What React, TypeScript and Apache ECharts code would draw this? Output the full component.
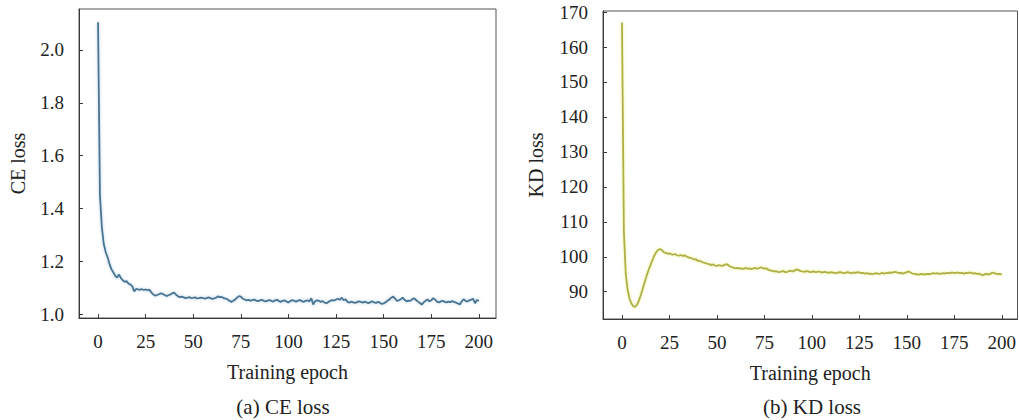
import React, { useEffect, useRef } from "react";
import * as echarts from "echarts";

const xTicks = [0, 25, 50, 75, 100, 125, 150, 175, 200];
const ceTicks = [1.0, 1.2, 1.4, 1.6, 1.8, 2.0];
const kdTicks = [90, 100, 110, 120, 130, 140, 150, 160, 170];

const ceLoss = [
  2.105, 1.45, 1.33, 1.265, 1.235, 1.215, 1.19, 1.17, 1.158, 1.145,
  1.138, 1.15, 1.136, 1.128, 1.122, 1.125, 1.115, 1.112, 1.105, 1.086,
  1.095, 1.093, 1.092, 1.094, 1.091, 1.093, 1.09, 1.092, 1.082, 1.074,
  1.07, 1.072, 1.075, 1.078, 1.076, 1.072, 1.068, 1.071, 1.074, 1.079,
  1.081, 1.073, 1.067, 1.064, 1.066, 1.063, 1.06, 1.062, 1.064, 1.06,
  1.061, 1.063, 1.059, 1.06, 1.062, 1.061, 1.058, 1.06, 1.063, 1.06,
  1.057, 1.059, 1.062, 1.067, 1.064, 1.065, 1.06, 1.058, 1.056, 1.05,
  1.046, 1.05, 1.055, 1.062, 1.068, 1.066, 1.058, 1.055, 1.052, 1.054,
  1.05, 1.053, 1.055, 1.051, 1.049, 1.052, 1.054, 1.05, 1.048, 1.051,
  1.053, 1.05, 1.047, 1.052, 1.054, 1.049, 1.046, 1.05, 1.052, 1.047,
  1.044, 1.049, 1.053, 1.05, 1.047, 1.051, 1.053, 1.049, 1.046, 1.05,
  1.052, 1.048, 1.06, 1.036, 1.048, 1.052, 1.05, 1.046, 1.049, 1.043,
  1.041, 1.046, 1.05, 1.053, 1.051, 1.055, 1.058, 1.054, 1.062, 1.052,
  1.056, 1.046, 1.043, 1.047, 1.044, 1.042, 1.045, 1.048, 1.046, 1.043,
  1.047, 1.044, 1.041, 1.045, 1.048, 1.044, 1.042, 1.046, 1.043, 1.038,
  1.04, 1.045, 1.05, 1.055, 1.062, 1.066, 1.058, 1.05, 1.052, 1.056,
  1.062, 1.054, 1.048, 1.051, 1.05, 1.056, 1.06, 1.053, 1.047, 1.042,
  1.036, 1.044, 1.05, 1.055, 1.048, 1.052, 1.06, 1.055, 1.047, 1.044,
  1.048, 1.05, 1.046, 1.044, 1.047, 1.045, 1.049, 1.046, 1.043, 1.04,
  1.036, 1.048, 1.056, 1.05, 1.047, 1.052, 1.055, 1.057, 1.041, 1.053,
  1.05,
];

const kdLoss = [
  167, 107, 95, 90.5, 88, 86.6, 85.8, 85.7, 86.3, 87.6,
  89.2, 91, 92.8, 94.6, 96.2, 97.6, 99, 100.3, 101.3, 102,
  102.2, 101.9, 101.3, 101.1, 100.9, 101, 100.7, 100.6, 100.8, 100.4,
  100.3, 100.5, 100.2, 100.4, 100.1, 99.8, 99.7, 99.5, 99.2, 99.3,
  98.8, 98.9, 98.5, 98.3, 98.2, 98.0, 97.9, 97.6, 97.8, 97.5,
  97.4, 97.6, 97.5, 97.4, 97.7, 97.9, 97.6, 97.2, 97.0, 96.8,
  96.7, 96.8, 96.6, 96.7, 96.5, 96.8, 96.6, 96.7, 96.5, 96.6,
  96.8, 96.6, 96.7, 97.0, 96.8, 96.6, 96.7, 96.3, 96.1, 96.0,
  95.8, 95.9, 95.7, 95.6, 95.8, 95.9, 95.6, 95.7, 95.9, 96.0,
  95.8, 96.1, 96.4, 96.2, 95.9, 95.8, 95.7, 95.9, 95.8, 95.6,
  95.7, 95.8, 95.6, 95.7, 95.8, 95.5, 95.6, 95.7, 95.5, 95.4,
  95.6, 95.5, 95.3, 95.4, 95.5, 95.6, 95.4, 95.3, 95.5, 95.6,
  95.4, 95.3, 95.5, 95.4, 95.6, 95.5, 95.3, 95.4, 95.2, 95.3,
  95.1, 95.2, 95.0, 95.2, 95.3, 95.1, 95.2, 95.4, 95.2, 95.3,
  95.4, 95.5, 95.4, 95.6, 95.7, 95.5, 95.3, 95.4, 95.2, 95.4,
  95.6, 95.8, 95.5, 95.2, 95.1, 95.0, 94.9, 95.0, 95.1, 94.9,
  95.0, 95.1, 95.0, 95.2, 95.3, 95.2, 95.3, 95.1, 95.2, 95.3,
  95.2, 95.4, 95.3, 95.4, 95.5, 95.3, 95.4, 95.5, 95.3, 95.4,
  95.2, 95.4, 95.3, 95.5, 95.4, 95.2, 95.3, 95.1, 95.2, 94.9,
  94.7, 95.0, 95.1, 94.9, 95.1, 95.5, 95.3, 95.2, 95.0, 95.1,
  94.9,
];

const FONT = "'Liberation Serif', 'Times New Roman', serif";
const TEXT = "#222";
const AXIS = "#3a3a3a";

function axisX(gridIndex: number, max: number) {
  return {
    type: "value",
    gridIndex,
    min: -10,
    max,
    name: "Training epoch",
    nameLocation: "middle",
    nameGap: 44,
    nameTextStyle: { fontFamily: FONT, fontSize: 20, color: TEXT },
    axisLine: { show: true, onZero: false, lineStyle: { color: AXIS, width: 1 } },
    axisTick: { show: true, inside: true, length: 4, customValues: xTicks, lineStyle: { color: AXIS } },
    axisLabel: { customValues: xTicks, fontFamily: FONT, fontSize: 19, color: TEXT, margin: 14 },
    splitLine: { show: false },
  };
}

function axisY(gridIndex: number, min: number, max: number, ticks: number[], name: string, gap: number, dec: number) {
  return {
    type: "value",
    gridIndex,
    min,
    max,
    name,
    nameLocation: "middle",
    nameGap: gap,
    nameTextStyle: { fontFamily: FONT, fontSize: 20, color: TEXT },
    axisLine: { show: true, onZero: false, lineStyle: { color: AXIS, width: 1 } },
    axisTick: { show: true, inside: true, length: 4, customValues: ticks, lineStyle: { color: AXIS } },
    axisLabel: {
      customValues: ticks,
      fontFamily: FONT,
      fontSize: 19,
      color: TEXT,
      margin: 15,
      formatter: (v: number) => v.toFixed(dec),
    },
    splitLine: { show: false },
  };
}

export default function App() {
  const ref = useRef<HTMLDivElement>(null);
  useEffect(() => {
    if (!ref.current) return;
    const chart = echarts.init(ref.current, undefined, { renderer: "svg" });
    chart.setOption({
      animation: false,
      backgroundColor: "#fff",
      grid: [
        { left: 79, top: 9, width: 417, height: 309, show: true, borderColor: "#555", borderWidth: 1, containLabel: false },
        { left: 603, top: 11, width: 415, height: 308, show: true, borderColor: "#555", borderWidth: 1, containLabel: false },
      ],
      xAxis: [axisX(0, 209), axisX(1, 208.3)],
      yAxis: [
        axisY(0, 0.985, 2.155, ceTicks, "CE loss", 51, 1),
        axisY(1, 82.2, 170.3, kdTicks, "KD loss", 57, 0),
      ],
      series: [
        {
          type: "line",
          xAxisIndex: 0,
          yAxisIndex: 0,
          data: ceLoss.map((v, i) => [i, v]),
          showSymbol: false,
          lineStyle: { color: "#4a7592", width: 1.8, shadowColor: "rgba(150,190,220,0.7)", shadowBlur: 3 },
        },
        {
          type: "line",
          xAxisIndex: 1,
          yAxisIndex: 1,
          data: kdLoss.map((v, i) => [i, v]),
          showSymbol: false,
          lineStyle: { color: "#adb044", width: 1.8, shadowColor: "rgba(235,235,120,0.8)", shadowBlur: 3 },
        },
      ],
      graphic: [
        {
          type: "text",
          x: 283,
          y: 407,
          style: { text: "(a) CE loss", fontFamily: FONT, fontSize: 21, fill: TEXT, align: "center", verticalAlign: "middle" },
        },
        {
          type: "text",
          x: 812,
          y: 407,
          style: { text: "(b) KD loss", fontFamily: FONT, fontSize: 21, fill: TEXT, align: "center", verticalAlign: "middle" },
        },
      ],
    });
    return () => chart.dispose();
  }, []);
  return <div ref={ref} style={{ position: "fixed", left: 0, top: 0, width: 1019, height: 420 }} />;
}
